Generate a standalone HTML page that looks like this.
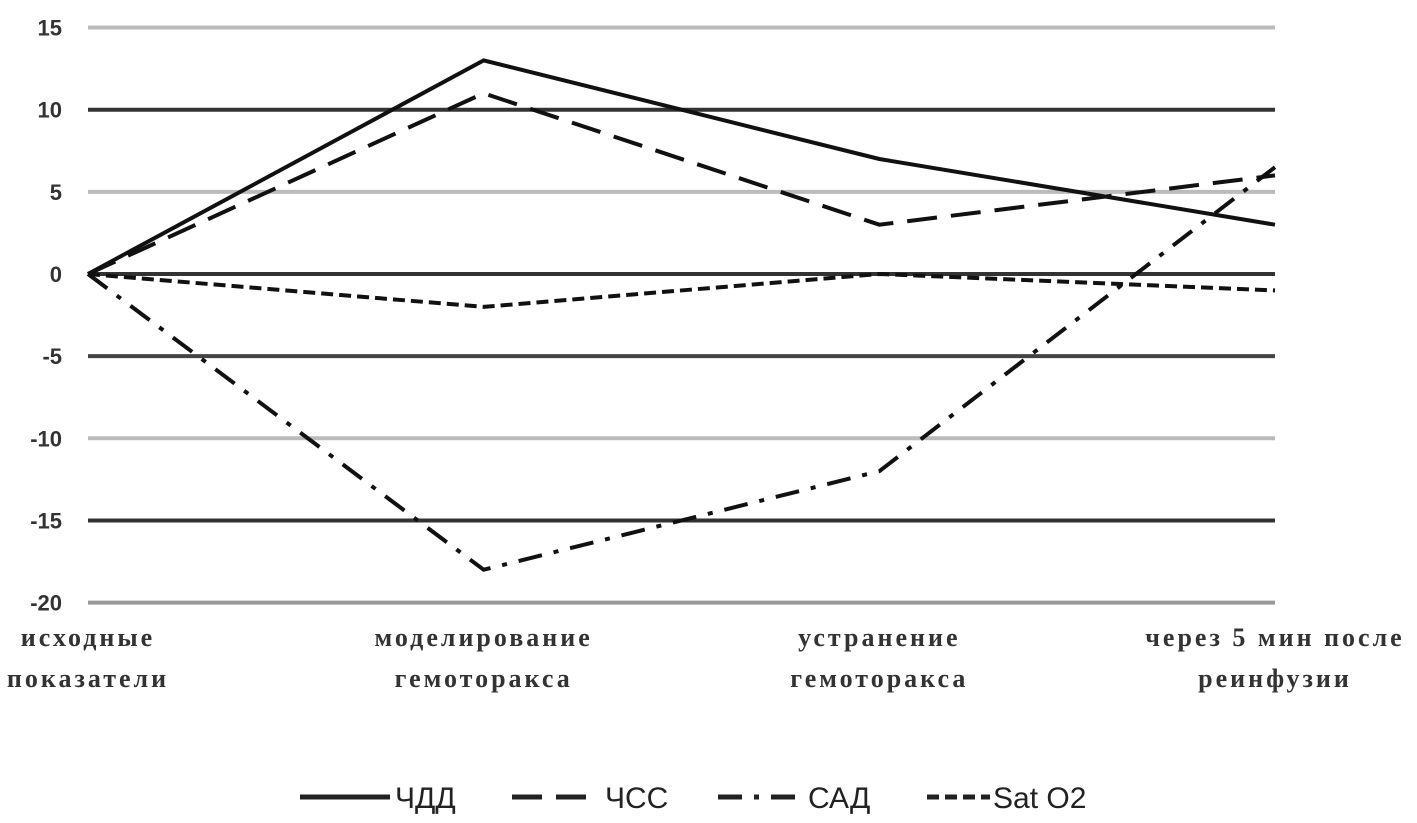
<!DOCTYPE html>
<html><head><meta charset="utf-8"><style>
body{margin:0;background:#fff;}
svg{display:block;font-family:"Liberation Sans",sans-serif;}
</style></head><body>
<svg id="chart" width="1417" height="823"></svg>
<script>
const categories=[["исходные","показатели"],["моделирование","гемоторакса"],["устранение","гемоторакса"],["через 5 мин после","реинфузии"]];
const chdd=[0,13,7,3];
const chss=[0,11,3,6];
const sad=[0,-18,-12,6.5];
const sat=[0,-2,0,-1];
const yTicks=[15,10,5,0,-5,-10,-15,-20];
const gridColors=["#bbb","#333","#bbb","#333","#444","#bbb","#333","#999"];
const NS="http://www.w3.org/2000/svg";
const svg=document.getElementById('chart');
const x0=88,x1=1275;
const xs=i=>x0+i*(x1-x0)/(categories.length-1);
const ys=v=>274-v*16.43;
function mk(t,a){const e=document.createElementNS(NS,t);for(const k in a)e.setAttribute(k,a[k]);svg.appendChild(e);return e;}
yTicks.forEach((t,i)=>{
 const l=mk('line',{x1:x0,x2:x1,y1:ys(t),y2:ys(t),stroke:gridColors[i],'stroke-width':4});
 
 
 const tx=mk('text',{x:62,y:ys(t)+8,'text-anchor':'end','font-size':22,'font-weight':'bold',fill:'#333'});
 tx.textContent=t;
 
 
});
categories.forEach((c,i)=>{
 c.forEach((s,j)=>{
  const tx=mk('text',{x:xs(i),y:646+j*41,'text-anchor':'middle','font-size':26,'font-weight':'bold','letter-spacing':3,'font-family':'"Liberation Serif",serif',fill:'#333'});
  tx.textContent=s;
  
  
 });
});
const series=[
 {name:'ЧДД',data:chdd,dash:'none'},
 {name:'ЧСС',data:chss,dash:'30 14'},
 {name:'САД',data:sad,dash:'24 12 5 12'},
 {name:'Sat O2',data:sat,dash:'12 6'}];
series.forEach(s=>{
 const p=mk('polyline',{points:s.data.map((v,i)=>xs(i)+','+ys(v)).join(' '),fill:'none',stroke:'#111','stroke-width':4,'stroke-dasharray':s.dash});
 
 
});
const legX=[[300,390,395],[512,600,605],[718,800,808],[927,990,993]];
series.forEach((s,i)=>{
 const l=mk('line',{x1:legX[i][0],x2:legX[i][1],y1:797,y2:797,stroke:'#222','stroke-width':5,'stroke-dasharray':s.dash});
 
 
 const t=mk('text',{x:legX[i][2],y:808,'font-size':30,fill:'#222'});
 t.textContent=s.name;
 
 
});
</script>
</body></html>
